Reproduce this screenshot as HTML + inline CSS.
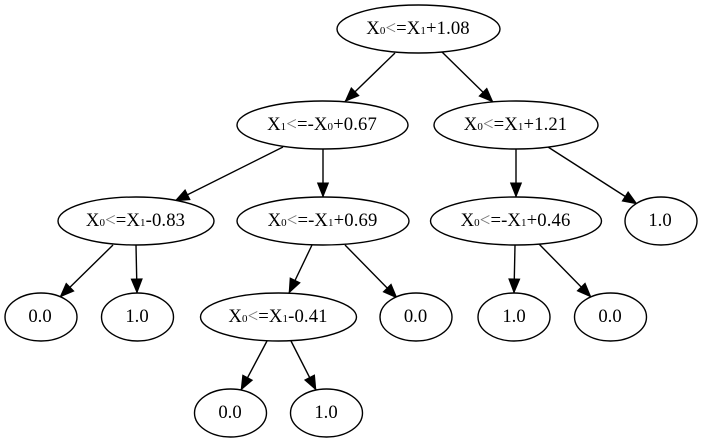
<!DOCTYPE html>
<html>
<head>
<meta charset="utf-8">
<style>
html,body{margin:0;padding:0;background:#fff;width:703px;height:443px;overflow:hidden}
svg{display:block}
text{font-family:"Liberation Serif",serif;font-size:18.67px;text-anchor:middle;fill:#000}
text.f{letter-spacing:0.12px}
tspan.s{font-size:11px}
tspan.l{fill:#777}
ellipse{fill:#fff;stroke:#000;stroke-width:1.4}
line{stroke:#000;stroke-width:1.4;marker-end:url(#a)}
</style>
</head>
<body>
<svg width="703" height="443" viewBox="0 0 703 443" xmlns="http://www.w3.org/2000/svg">
<defs>
<marker id="a" markerUnits="userSpaceOnUse" markerWidth="18" markerHeight="14" refX="15" refY="7" orient="auto">
<path d="M1,1.6 L14.5,7 L1,12.4 Z" fill="#000" stroke="#000" stroke-width="1"/>
</marker>
</defs>

<line x1="395" y1="53" x2="345" y2="101.5"/>
<line x1="442" y1="52" x2="493" y2="102"/>
<line x1="283" y1="147" x2="175" y2="201"/>
<line x1="323" y1="149" x2="323" y2="197"/>
<line x1="516" y1="149" x2="516" y2="197"/>
<line x1="548" y1="147" x2="637" y2="204"/>
<line x1="113" y1="245" x2="60" y2="297"/>
<line x1="136" y1="245" x2="137" y2="293"/>
<line x1="312" y1="245" x2="289" y2="293"/>
<line x1="345" y1="245" x2="397" y2="298"/>
<line x1="515" y1="245" x2="514" y2="293"/>
<line x1="539" y1="244" x2="591" y2="297"/>
<line x1="267" y1="341" x2="241" y2="390"/>
<line x1="291" y1="341" x2="316" y2="390"/>

<ellipse cx="418.5" cy="29" rx="81.5" ry="24"/>
<text class="f" x="418" y="34">X<tspan class="s">0</tspan><tspan class="l">&lt;</tspan>=X<tspan class="s">1</tspan>+1.08</text>

<ellipse cx="322.5" cy="125" rx="85.5" ry="24"/>
<text class="f" x="322" y="130">X<tspan class="s">1</tspan><tspan class="l">&lt;</tspan>=-X<tspan class="s">0</tspan>+0.67</text>

<ellipse cx="516" cy="125" rx="82" ry="24"/>
<text class="f" x="515.5" y="130">X<tspan class="s">0</tspan><tspan class="l">&lt;</tspan>=X<tspan class="s">1</tspan>+1.21</text>

<ellipse cx="136" cy="221" rx="78" ry="24"/>
<text class="f" x="135.5" y="226">X<tspan class="s">0</tspan><tspan class="l">&lt;</tspan>=X<tspan class="s">1</tspan>-0.83</text>

<ellipse cx="323" cy="221" rx="86" ry="24"/>
<text class="f" x="322.5" y="226">X<tspan class="s">0</tspan><tspan class="l">&lt;</tspan>=-X<tspan class="s">1</tspan>+0.69</text>

<ellipse cx="516" cy="221" rx="85.5" ry="24"/>
<text class="f" x="515.5" y="226">X<tspan class="s">0</tspan><tspan class="l">&lt;</tspan>=-X<tspan class="s">1</tspan>+0.46</text>

<ellipse cx="661" cy="221" rx="36" ry="24"/>
<text x="660" y="226">1.0</text>

<ellipse cx="41" cy="317" rx="36" ry="24"/>
<text x="40" y="322">0.0</text>

<ellipse cx="137.5" cy="317" rx="36" ry="24"/>
<text x="137" y="322">1.0</text>

<ellipse cx="278.5" cy="317" rx="78" ry="24"/>
<text class="f" x="278" y="322">X<tspan class="s">0</tspan><tspan class="l">&lt;</tspan>=X<tspan class="s">1</tspan>-0.41</text>

<ellipse cx="416" cy="317" rx="36" ry="24"/>
<text x="415.5" y="322">0.0</text>

<ellipse cx="514" cy="317" rx="36" ry="24"/>
<text x="514" y="322">1.0</text>

<ellipse cx="610.5" cy="317" rx="36" ry="24"/>
<text x="610" y="322">0.0</text>

<ellipse cx="230.5" cy="413" rx="36" ry="24"/>
<text x="230" y="418">0.0</text>

<ellipse cx="326.5" cy="413" rx="36" ry="24"/>
<text x="326" y="418">1.0</text>
</svg>
</body>
</html>
